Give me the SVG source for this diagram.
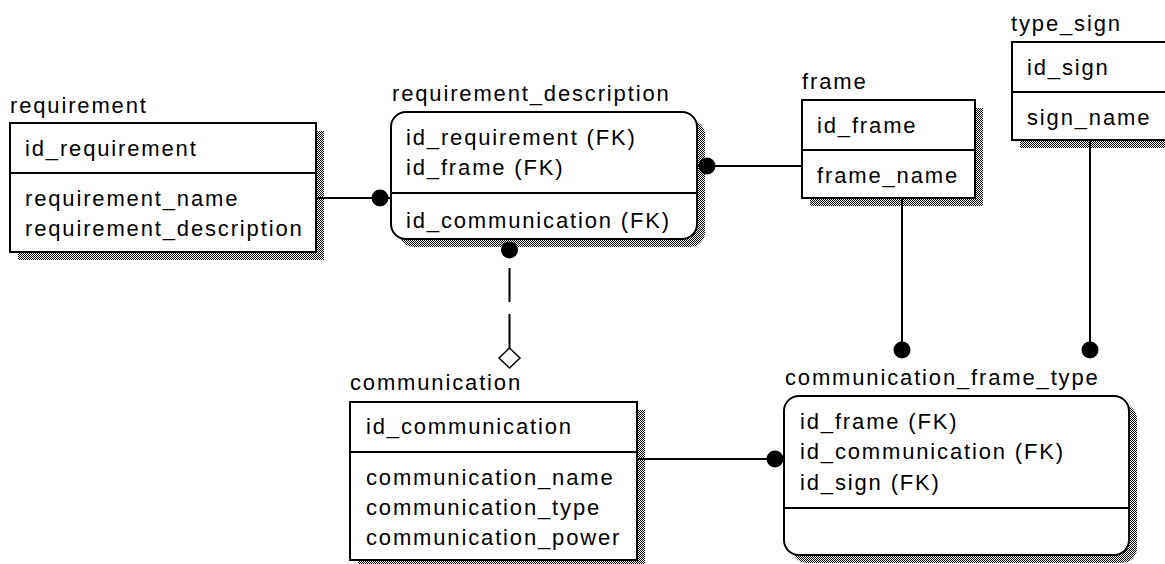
<svg xmlns="http://www.w3.org/2000/svg" width="1165" height="564" viewBox="0 0 1165 564">
  <style>
    .t { font-family: "Liberation Sans", Arial, sans-serif; font-size: 22px; letter-spacing: 1.85px; fill: #000; }
    .box { fill: #fff; stroke: #000; stroke-width: 2; }
    .shadow { fill: url(#dither); stroke: none; }
    .div { stroke: #000; stroke-width: 2; }
    .link { stroke: #000; stroke-width: 2; fill: none; }
    .dot { fill: #000; }
  </style>
  <defs>
    <!-- 1px checkerboard used for the drop shadows -->
    <pattern id="dither" width="2" height="2" patternUnits="userSpaceOnUse">
      <rect width="2" height="2" fill="#fff"/>
      <rect x="0" y="0" width="1" height="1" fill="#000"/>
      <rect x="1" y="1" width="1" height="1" fill="#000"/>
    </pattern>
  </defs>
  <rect width="1165" height="564" fill="#fff"/>

  <!-- entity: requirement -->
  <g id="requirement">
    <text class="t" x="10" y="113">requirement</text>
    <rect class="shadow" x="18" y="131" width="306" height="129"/>
    <rect class="box" x="10" y="123" width="306" height="129"/>
    <line class="div" x1="10" y1="173" x2="316" y2="173"/>
    <text class="t" x="25" y="156">id_requirement</text>
    <text class="t" x="25" y="206">requirement_name</text>
    <text class="t" x="25" y="236">requirement_description</text>
  </g>

  <!-- entity: requirement_description (dependent, rounded) -->
  <g id="requirement_description">
    <text class="t" x="392" y="101">requirement_description</text>
    <rect class="shadow" x="399" y="120" width="306" height="127" rx="15"/>
    <rect class="box" x="391" y="112" width="306" height="127" rx="15"/>
    <line class="div" x1="391" y1="193" x2="697" y2="193"/>
    <text class="t" x="406" y="145">id_requirement (FK)</text>
    <text class="t" x="406" y="175">id_frame (FK)</text>
    <text class="t" x="406" y="228">id_communication (FK)</text>
  </g>

  <!-- entity: frame -->
  <g id="frame">
    <text class="t" x="802" y="89">frame</text>
    <rect class="shadow" x="810" y="108" width="173" height="98"/>
    <rect class="box" x="802" y="100" width="173" height="98"/>
    <line class="div" x1="802" y1="150" x2="975" y2="150"/>
    <text class="t" x="817" y="133">id_frame</text>
    <text class="t" x="817" y="183">frame_name</text>
  </g>

  <!-- entity: type_sign -->
  <g id="type_sign">
    <text class="t" x="1011" y="31">type_sign</text>
    <rect class="shadow" x="1020" y="50" width="200" height="98"/>
    <rect class="box" x="1012" y="42" width="200" height="98"/>
    <line class="div" x1="1012" y1="92" x2="1212" y2="92"/>
    <text class="t" x="1027" y="75">id_sign</text>
    <text class="t" x="1027" y="125">sign_name</text>
  </g>

  <!-- entity: communication -->
  <g id="communication">
    <text class="t" x="350" y="390">communication</text>
    <rect class="shadow" x="358" y="410" width="287" height="158"/>
    <rect class="box" x="350" y="402" width="287" height="158"/>
    <line class="div" x1="350" y1="452" x2="637" y2="452"/>
    <text class="t" x="366" y="434">id_communication</text>
    <text class="t" x="366" y="485">communication_name</text>
    <text class="t" x="366" y="515">communication_type</text>
    <text class="t" x="366" y="545">communication_power</text>
  </g>

  <!-- entity: communication_frame_type (dependent, rounded) -->
  <g id="communication_frame_type">
    <text class="t" x="785" y="385">communication_frame_type</text>
    <rect class="shadow" x="792" y="404" width="345" height="159" rx="15"/>
    <rect class="box" x="784" y="396" width="345" height="159" rx="15"/>
    <line class="div" x1="784" y1="508" x2="1129" y2="508"/>
    <text class="t" x="800" y="429">id_frame (FK)</text>
    <text class="t" x="800" y="459">id_communication (FK)</text>
    <text class="t" x="800" y="490">id_sign (FK)</text>
  </g>

  <!-- relationships -->
  <g id="connectors">
    <!-- requirement 1 : N requirement_description -->
    <line class="link" x1="316" y1="198" x2="391" y2="198"/>
    <circle class="dot" cx="380" cy="198" r="8.5"/>

    <!-- frame 1 : N requirement_description -->
    <line class="link" x1="697" y1="166" x2="802" y2="166"/>
    <circle class="dot" cx="707" cy="166" r="8.5"/>

    <!-- communication 0..1 : N requirement_description (non-identifying) -->
    <circle class="dot" cx="509.5" cy="250" r="8.5"/>
    <line class="link" x1="509.5" y1="268" x2="509.5" y2="348" stroke-dasharray="34 12"/>
    <polygon points="509.5,348 520,358 509.5,368 499,358" fill="#fff" stroke="#000" stroke-width="1.5"/>

    <!-- frame 1 : N communication_frame_type -->
    <line class="link" x1="902" y1="198" x2="902" y2="350"/>
    <circle class="dot" cx="902" cy="350" r="8.5"/>

    <!-- type_sign 1 : N communication_frame_type -->
    <line class="link" x1="1090" y1="140" x2="1090" y2="350"/>
    <circle class="dot" cx="1090" cy="350" r="8.5"/>

    <!-- communication 1 : N communication_frame_type -->
    <line class="link" x1="637" y1="459" x2="784" y2="459"/>
    <circle class="dot" cx="775" cy="459" r="8.5"/>
  </g>
</svg>
